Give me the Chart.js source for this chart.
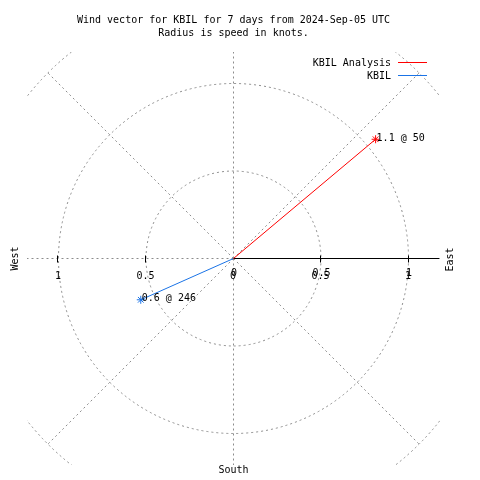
<!DOCTYPE html>
<html>
<head>
<meta charset="utf-8">
<script src="https://cdn.jsdelivr.net/npm/chart.js@4"></script>
<style>
html, body { margin: 0; padding: 0; background: #fff; }
</style>
</head>
<body>
<canvas id="windChart" width="480" height="480"></canvas>
<script>
// wind vectors: speed in knots, direction in compass degrees
var seriesNames = ['KBIL Analysis', 'KBIL'];
var speeds = [1.06, 0.58];
var directions = [50, 246];
var pointLabels = ['1.1 @ 50', '0.6 @ 246'];

// polar grid and axis ticks
var ringValues = [0.5, 1, 1.5];
var spokeAngles = [0, 45, 90, 135, 180, 225, 270, 315];
var axisTickValues = [-1, -0.5, 0, 0.5, 1];
var axisTickLabels = ['1', '0.5', '0', '0.5', '1'];
var radiusTickValues = [0, 0.5, 1];
var radiusTickLabels = ['0', '0.5', '1'];

var seriesColors = ['#ff0000', '#1a73e6'];
var monoFont = '"DejaVu Sans Mono", "Liberation Mono", monospace';

function toXY(speed, dir) {
    var rad = dir * Math.PI / 180;
    return { x: speed * Math.sin(rad), y: speed * Math.cos(rad) };
}

var datasets = [];
for (var i = 0; i < seriesNames.length; i++) {
    datasets.push({
        label: seriesNames[i],
        data: [{ x: 0, y: 0 }, toXY(speeds[i], directions[i])],
        showLine: true,
        borderColor: seriesColors[i],
        borderWidth: 1,
        pointStyle: 'star',
        pointRadius: [0, 4],
        pointBorderColor: seriesColors[i],
        pointBackgroundColor: seriesColors[i],
        pointBorderWidth: 1
    });
}

var polarGrid = {
    id: 'polarGrid',
    beforeDatasetsDraw: function(chart) {
        var ctx = chart.ctx, xs = chart.scales.x, ys = chart.scales.y, area = chart.chartArea;
        var cx = xs.getPixelForValue(0), cy = ys.getPixelForValue(0);
        ctx.save();
        ctx.beginPath();
        ctx.rect(area.left, area.top, area.right - area.left, area.bottom - area.top);
        ctx.clip();
        ctx.strokeStyle = '#8c8c8c';
        ctx.lineWidth = 1;
        ctx.setLineDash([2, 3]);
        ringValues.forEach(function(r) {
            var rp = xs.getPixelForValue(r) - cx;
            ctx.beginPath();
            ctx.arc(cx, cy, rp, 0, Math.PI * 2);
            ctx.stroke();
        });
        var rmax = ringValues[ringValues.length - 1];
        spokeAngles.forEach(function(a) {
            var rad = a * Math.PI / 180;
            ctx.beginPath();
            ctx.moveTo(cx, cy);
            ctx.lineTo(xs.getPixelForValue(rmax * Math.cos(rad)), ys.getPixelForValue(rmax * Math.sin(rad)));
            ctx.stroke();
        });
        ctx.restore();

        // polar axis
        ctx.save();
        ctx.strokeStyle = '#000';
        ctx.lineWidth = 1;
        ctx.beginPath();
        ctx.moveTo(cx, cy);
        ctx.lineTo(area.right - 1, cy);
        ctx.stroke();
        axisTickValues.forEach(function(v) {
            if (v === 0) return;
            var px = Math.round(xs.getPixelForValue(v)) - 0.5;
            ctx.beginPath();
            ctx.moveTo(px, cy - 3);
            ctx.lineTo(px, cy + 4);
            ctx.stroke();
        });
        ctx.restore();
    },
    afterDatasetsDraw: function(chart) {
        var ctx = chart.ctx, xs = chart.scales.x, ys = chart.scales.y;
        var cy = ys.getPixelForValue(0);
        ctx.save();
        ctx.fillStyle = '#000';
        ctx.font = '10px ' + monoFont;
        ctx.textBaseline = 'middle';
        ctx.textAlign = 'center';
        axisTickValues.forEach(function(v, k) {
            ctx.fillText(axisTickLabels[k], xs.getPixelForValue(v) - 0.5, cy + 18);
        });
        radiusTickValues.forEach(function(v, k) {
            ctx.fillText(radiusTickLabels[k], xs.getPixelForValue(v) + 0.5, cy + 15);
        });
        ctx.fillText('South', xs.getPixelForValue(0), 470);

        ctx.save();
        ctx.translate(15, cy);
        ctx.rotate(-Math.PI / 2);
        ctx.fillText('West', 0, 0);
        ctx.restore();
        ctx.save();
        ctx.translate(450, cy + 1);
        ctx.rotate(-Math.PI / 2);
        ctx.fillText('East', 0, 0);
        ctx.restore();

        // point labels
        ctx.textAlign = 'left';
        chart.data.datasets.forEach(function(ds, k) {
            var p = ds.data[1];
            ctx.fillText(pointLabels[k], xs.getPixelForValue(p.x) + 1, ys.getPixelForValue(p.y) - 1);
        });

        // legend
        ctx.textAlign = 'right';
        chart.data.datasets.forEach(function(ds, k) {
            var y = 63 + k * 13;
            ctx.fillStyle = '#000';
            ctx.fillText(ds.label, 391, y);
            ctx.strokeStyle = ds.borderColor;
            ctx.lineWidth = 1;
            ctx.beginPath();
            ctx.moveTo(398, y - 0.5);
            ctx.lineTo(427, y - 0.5);
            ctx.stroke();
        });
        ctx.restore();
    }
};

new Chart(document.getElementById('windChart'), {
    type: 'scatter',
    data: { datasets: datasets },
    options: {
        responsive: false,
        animation: false,
        devicePixelRatio: 1,
        layout: { padding: { top: 14, left: 27, right: 40, bottom: 15 } },
        scales: {
            x: { type: 'linear', min: -1.18, max: 1.18, display: false },
            y: { type: 'linear', min: -1.18, max: 1.18, display: false }
        },
        plugins: {
            legend: { display: false },
            tooltip: { enabled: false },
            title: {
                display: true,
                text: ['Wind vector for KBIL for 7 days from 2024-Sep-05 UTC', 'Radius is speed in knots.'],
                color: '#000',
                font: { family: monoFont, size: 10, weight: 'normal', lineHeight: 1.3 },
                padding: { top: 0, bottom: 12 }
            }
        }
    },
    plugins: [polarGrid]
});
</script>
</body>
</html>
